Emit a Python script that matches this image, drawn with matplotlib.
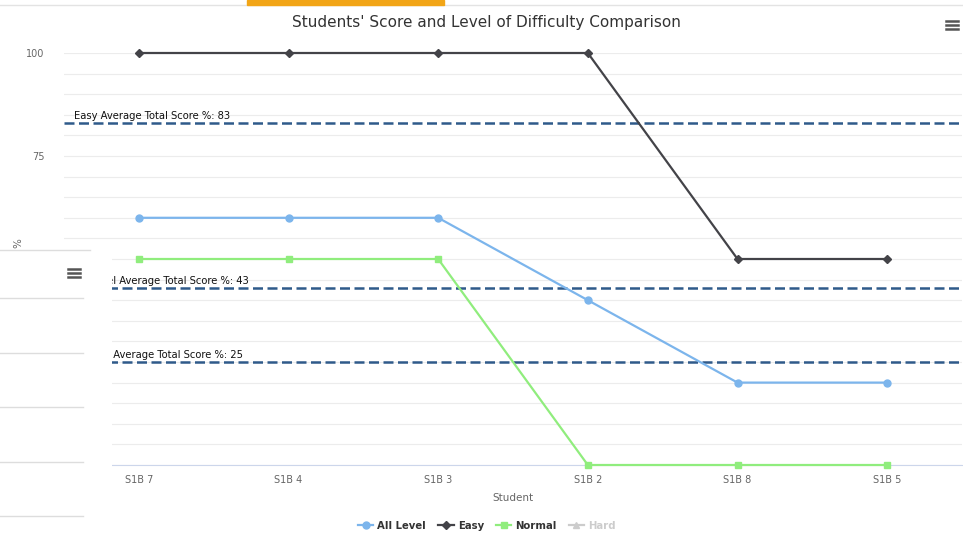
import numpy as np
import matplotlib
matplotlib.use('Agg')
import matplotlib.pyplot as plt
from matplotlib.lines import Line2D
from matplotlib.patches import Rectangle

# data
students = ['S1B 7', 'S1B 4', 'S1B 3', 'S1B 2', 'S1B 8', 'S1B 5']
all_level = [60, 60, 60, 40, 20, 20]
easy = [100, 100, 100, 100, 50, 50]
normal = [50, 50, 50, 0, 0, 0]
avg_values = [83, 43, 25]
avg_labels = ['Easy Average Total Score %: 83',
              'All Level Average Total Score %: 43',
              'Normal Average Total Score %: 25']

W, H = 963, 535
fig = plt.figure(figsize=(W / 100, H / 100), dpi=100)
ax = fig.add_axes([64 / W, (H - 465) / H, (962 - 64) / W, (465 - 53) / H])

x = np.arange(len(students))
ax.plot(x, all_level, color='#7cb5ec', lw=1.6, marker='o', ms=5, clip_on=False, zorder=4)
ax.plot(x, easy, color='#434348', lw=1.6, marker='D', ms=4, clip_on=False, zorder=4)
ax.plot(x, normal, color='#90ed7d', lw=1.6, marker='s', ms=5, clip_on=False, zorder=4)

for v, lab in zip(avg_values, avg_labels):
    ax.axhline(v, color='#2f5a8a', lw=1.8, dashes=(4, 1.8), zorder=3)
    ax.annotate(lab, (0, v), xycoords=('axes fraction', 'data'), xytext=(10, 2),
                textcoords='offset pixels', fontsize=7.2, color='#111111', va='bottom')

ax.set_xlim(-0.5, len(students) - 0.5)
ax.set_ylim(0, 100)
ax.set_yticks([0, 25, 50, 75, 100])
ax.set_yticks(np.arange(0, 101, 5), minor=True)
ax.grid(True, which='both', axis='y', color='#ececec', lw=0.8)
ax.set_axisbelow(True)
ax.set_xticks(x)
ax.set_xticklabels(students)
ax.tick_params(axis='x', length=0, pad=7, labelsize=7, labelcolor='#666666')
ax.tick_params(axis='y', which='both', length=0, pad=14, labelsize=7, labelcolor='#666666')
for s in ['top', 'right', 'left']:
    ax.spines[s].set_visible(False)
ax.spines['bottom'].set_color('#ccd6eb')
ax.set_xlabel('Student', fontsize=7.5, color='#666666', labelpad=6)

fig.text(486 / W, 1 - 22 / H, "Students' Score and Level of Difficulty Comparison",
         ha='center', va='center', fontsize=11, color='#333333')
fig.text(18 / W, 1 - 243 / H, '%', ha='center', va='center', fontsize=7.5,
         color='#666666', rotation=90)


def menu_icon(cx, cy):
    # three short bars, like the export menu button
    for dy in (-4, 0, 4):
        yy = 1 - (cy + dy) / H
        fig.add_artist(Line2D([(cx - 6) / W, (cx + 6) / W], [yy, yy], transform=fig.transFigure,
                              color='#555555', lw=1.8, zorder=12))


menu_icon(952, 25)

handles = [
    Line2D([], [], color='#7cb5ec', marker='o', ms=5, lw=1.6),
    Line2D([], [], color='#434348', marker='D', ms=4, lw=1.6),
    Line2D([], [], color='#90ed7d', marker='s', ms=5, lw=1.6),
    Line2D([], [], color='#cccccc', marker='^', ms=5, lw=1.6),
]
leg = fig.legend(handles, ['All Level', 'Easy', 'Normal', 'Hard'], loc='center',
                 bbox_to_anchor=(487 / W, 1 - 526 / H), ncol=4, frameon=False,
                 handlelength=1.5, handletextpad=0.4, columnspacing=1.2,
                 prop={'size': 7.3, 'weight': 'bold'})
for t, c in zip(leg.get_texts(), ['#333333', '#333333', '#333333', '#cccccc']):
    t.set_color(c)

# page decorations: top rule with active tab, overlapping side panel
fig.add_artist(Line2D([0, 1], [1 - 5 / H, 1 - 5 / H], transform=fig.transFigure,
                      color='#e3e3e3', lw=1))
fig.add_artist(Rectangle((247 / W, 1 - 5 / H), 197 / W, 5 / H, transform=fig.transFigure,
                         color='#f2a516', zorder=10))
fig.add_artist(Rectangle((0, 0), 112 / W, (H - 250) / H, transform=fig.transFigure,
                         facecolor='white', edgecolor='none', zorder=10))
for yy, xe in [(250, 90), (298, 83), (353, 83), (407, 83), (462, 83), (516, 83)]:
    fig.add_artist(Line2D([0, xe / W], [1 - yy / H, 1 - yy / H], transform=fig.transFigure,
                          color='#dddddd', lw=1, zorder=11))
menu_icon(74, 273)

plt.savefig('out.png', dpi=100)
plt.close()
